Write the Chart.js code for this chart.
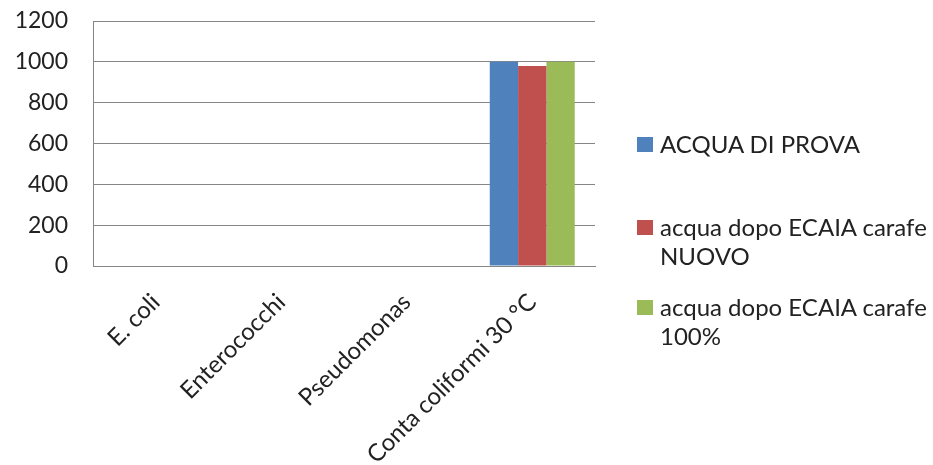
<!DOCTYPE html>
<html>
<head>
<meta charset="utf-8">
<script src="https://cdn.jsdelivr.net/npm/chart.js@4"></script>
<style>
  body { margin: 0; background: #fff; }
  #wrap { position: relative; width: 933px; height: 465px; }
  #legend { position: absolute; left: 637px; top: 0; font-family: Lato, "Liberation Sans", sans-serif; font-size: 24px; color: #222; }
  .item { position: absolute; left: 0; width: 300px; line-height: 29px; }
  .box { position: absolute; left: 0; top: 8px; width: 16px; height: 15px; }
  .txt { margin-left: 23px; }
</style>
</head>
<body>
<div id="wrap">
  <canvas id="myChart" width="933" height="465"></canvas>
  <div id="legend"></div>
</div>
<script>
const categories = ["E. coli", "Enterococchi", "Pseudomonas", "Conta coliformi 30 °C"];
const seriesNames = ["ACQUA DI PROVA", "acqua dopo ECAIA carafe NUOVO", "acqua dopo ECAIA carafe 100%"];
const acquaDiProva = [0, 0, 0, 1000];
const ecaiaNuovo = [0, 0, 0, 980];
const ecaia100 = [0, 0, 0, 1000];
const yTicks = [0, 200, 400, 600, 800, 1000, 1200];

const colors = ['#4F81BD', '#C0504D', '#9BBB59'];

const data = {
	labels: categories,
	datasets: [acquaDiProva, ecaiaNuovo, ecaia100].map((vals, i) => ({
		label: seriesNames[i],
		data: vals,
		backgroundColor: colors[i],
		borderWidth: 0,
		categoryPercentage: 0.677,
		barPercentage: 1
	}))
};

const config = {
	type: 'bar',
	data: data,
	options: {
		responsive: false,
		animation: false,
		layout: { padding: { left: 0, right: 338, top: 21, bottom: 0 } },
		plugins: { legend: { display: false }, tooltip: { enabled: false } },
		scales: {
			x: {
				grid: { display: false },
				border: { color: '#868686' },
				ticks: {
					minRotation: 45, maxRotation: 45, padding: 14,
					color: '#222', font: { family: 'Lato', size: 24 }
				},
				afterFit: (s) => { s.height = 199; s.paddingLeft = 0; s.paddingRight = 0; }
			},
			y: {
				min: 0, max: 1200,
				afterBuildTicks: (s) => { s.ticks = yTicks.map(v => ({ value: v })); },
				grid: { color: '#868686', drawTicks: false },
				border: { color: '#868686' },
				ticks: {
					padding: 25, color: '#222', font: { family: 'Lato', size: 23 },
					callback: (v) => String(v)
				},
				afterFit: (s) => { s.width = 93; s.paddingTop = 0; s.paddingBottom = 0; }
			}
		}
	}
};

const myChart = new Chart(document.getElementById('myChart'), config);

// html legend on the right, lines split like the original
const legendLines = [["ACQUA DI PROVA"], ["acqua dopo ECAIA carafe", "NUOVO"], ["acqua dopo ECAIA carafe", "100%"]];
const legendTops = [129, 212, 292];
const legend = document.getElementById('legend');
legendLines.forEach((lines, i) => {
	let item = document.createElement('div');
	item.className = 'item';
	item.style.top = legendTops[i] + 'px';
	item.innerHTML = '<div class="box" style="background:' + colors[i] + '"></div><div class="txt">' + lines.join('<br>') + '</div>';
	legend.appendChild(item);
});
</script>
</body>
</html>
